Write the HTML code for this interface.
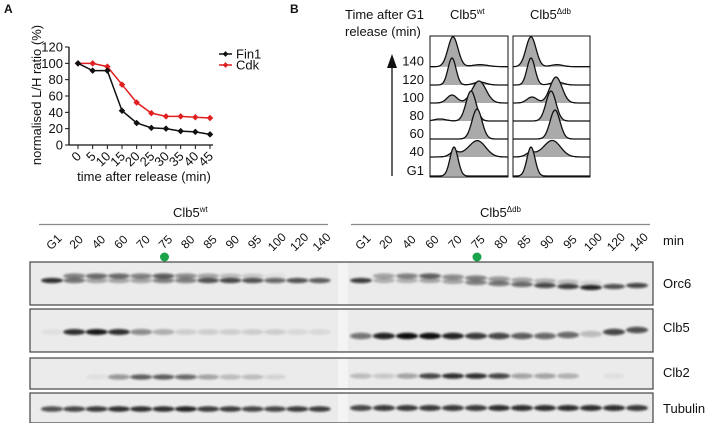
<!DOCTYPE html>
<html><head><meta charset="utf-8"><style>
body{margin:0;background:#fff;}
svg text{font-family:"Liberation Sans",sans-serif;fill:#111;}
</style></head><body>
<svg id="fig" width="709" height="423" viewBox="0 0 709 423" xmlns="http://www.w3.org/2000/svg">
<defs>
<filter id="blur" x="-50%" y="-100%" width="200%" height="300%"><feGaussianBlur stdDeviation="1.1"/></filter>
</defs>
<text x="4" y="13" font-size="12" font-weight="bold">A</text>
<text x="290" y="13" font-size="12" font-weight="bold">B</text>
<g id="chartA"></g>
<g id="panelB"></g>
<g id="blot"></g>
</svg>
<script>
// ---------- Chart A data ----------
const timeLabels = ["0","5","10","15","20","25","30","35","40","45"];
const fin1Values = [100,91,91,42,27,21,20,17,16,13];
const cdkValues = [100,100,96,74,52,39,35,35,34,33];
const yTicks = [0,20,40,60,80,100,120];
const seriesNames = ["Fin1","Cdk"];

// ---------- Blot data (lane intensities 0-1) ----------
const laneLabels = ["G1","20","40","60","70","75","80","85","90","95","100","120","140"];
const orc6UpperWt = [0,0.5,0.6,0.6,0.5,0.65,0.45,0.3,0.2,0.15,0.05,0,0];
const orc6LowerWt = [0.85,0.55,0.35,0.35,0.35,0.5,0.5,0.7,0.75,0.7,0.6,0.7,0.65];
const orc6UpperDb = [0,0.35,0.5,0.65,0.45,0.5,0.4,0.3,0.25,0.2,0.1,0,0];
const orc6LowerDb = [0.8,0.25,0.25,0.3,0.3,0.5,0.55,0.6,0.75,0.8,0.9,0.7,0.75];
const orc6ShiftDb = [0,0,0,0,1,2,3,4,5,6,7,6,5];
const clb5Wt = [0.05,0.85,0.95,0.85,0.45,0.25,0.12,0.12,0.12,0.12,0.12,0.08,0.08];
const clb5Db = [0.55,0.9,1,1,0.9,0.8,0.75,0.65,0.6,0.6,0.2,0.75,0.7];
const clb5ShiftDb = [0,0,0,0,0,0,0,0,0,-1,-2,-4,-6];
const clb2Wt = [0,0,0.05,0.4,0.65,0.65,0.6,0.3,0.2,0.2,0.1,0,0];
const clb2Db = [0.2,0.15,0.3,0.75,0.85,0.85,0.75,0.3,0.3,0.25,0,0.05,0];
const tubWt = [0.7,0.75,0.8,0.85,0.85,0.85,0.9,0.8,0.8,0.75,0.75,0.8,0.8];
const tubDb = [0.75,0.8,0.8,0.8,0.8,0.8,0.85,0.85,0.85,0.85,0.85,0.85,0.8];

// ---------- Flow data: [center offset, height, width] peaks per row ----------
const flowRows = ["140","120","100","80","60","40","G1"];
const flowWt = [[[23,30,5],[50,2,8]],[[22,27,4],[50,3,6]],[[22,8,5],[49,22,7]],[[41,30,5],[10,2,6]],[[47,30,5]],[[24,4,4],[48,15,8],[35,3,10]],[[24,29,4]]];
const flowDb = [[[18,30,5],[44,2,6]],[[18,27,4],[44,3,6]],[[19,6,5],[43,26,6]],[[38,30,5]],[[42,29,5]],[[17,3,4],[40,15,8],[28,3,10]],[[18,29,4]]];

const NS="http://www.w3.org/2000/svg";
function mk(tag,attrs,parent){const e=document.createElementNS(NS,tag);for(const k in attrs)e.setAttribute(k,attrs[k]);parent.appendChild(e);return e;}
function txt(s,attrs,parent){const e=mk("text",attrs,parent);e.textContent=s;return e;}

// ---------- Chart A ----------
(function(){
 const g=document.getElementById("chartA");
 const x0=78,dx=132/9,yb=145,ypx=98/120;
 const X=i=>x0+i*dx, Y=v=>yb-v*ypx;
 const yaxis=mk("line",{x1:69,y1:Y(120),x2:69,y2:yb,stroke:"#111","stroke-width":1.3},g);
 
 
 const xaxis=mk("line",{x1:69,y1:yb,x2:X(9)+3,y2:yb,stroke:"#111","stroke-width":1.3},g);
 
 
 yTicks.forEach(v=>{
  mk("line",{x1:65,y1:Y(v),x2:69,y2:Y(v),stroke:"#111"},g);
  const t=txt(String(v),{x:63,y:Y(v)+4.5,"font-size":13,"text-anchor":"end"},g);
  
  
 });
 timeLabels.forEach((s,i)=>{
  mk("line",{x1:X(i),y1:yb,x2:X(i),y2:yb+4,stroke:"#111"},g);
  const t=txt(s,{x:X(i)+4,y:yb+12,"font-size":13,"text-anchor":"end",transform:`rotate(-45 ${X(i)+4} ${yb+12})`},g);
  
  
 });
 const yl=txt("normalised L/H ratio (%)",{x:0,y:0,"font-size":13,"text-anchor":"middle",transform:"translate(41,95) rotate(-90)"},g);
 
 
 const xl=txt("time after release (min)",{x:144,y:181,"font-size":13,"text-anchor":"middle"},g);
 
 
 [[cdkValues,"#e02020","series-cdk"],[fin1Values,"#111","series-fin1"]].forEach(([vals,col,nm])=>{
  const p=mk("polyline",{points:vals.map((v,i)=>X(i)+","+Y(v)).join(" "),fill:"none",stroke:col,"stroke-width":1.5},g);
  
  
  vals.forEach((v,i)=>{
   const m=mk("rect",{x:X(i)-2.3,y:Y(v)-2.3,width:4.6,height:4.6,fill:col,transform:`rotate(45 ${X(i)} ${Y(v)})`},g);
   
   
  });
 });
 [["#111",seriesNames[0],54],["#e02020",seriesNames[1],65]].forEach(([col,nm,y])=>{
  const lg=mk("g",{},g);
  
  
  mk("line",{x1:219,y1:y,x2:232,y2:y,stroke:col,"stroke-width":1.5},lg);
  mk("rect",{x:223.5,y:y-2,width:4,height:4,fill:col,transform:`rotate(45 225.5 ${y})`},lg);
  txt(nm,{x:236,y:y+4.5,"font-size":13},lg);
 });
})();

// ---------- Panel B ----------
(function(){
 const g=document.getElementById("panelB");
 txt("Time after G1",{x:345,y:19,"font-size":13},g);
 txt("release (min)",{x:345,y:36,"font-size":13},g);
 const h1=txt("Clb5",{x:450,y:19,"font-size":13},g);
 const s1=mk("tspan",{"font-size":8,dy:-5},h1);s1.textContent="wt";
 
 const h2=txt("Clb5",{x:530,y:19,"font-size":13},g);
 const s2=mk("tspan",{"font-size":8,dy:-5},h2);s2.textContent="Δdb";
 
 const arr=mk("line",{x1:392,y1:176,x2:392,y2:64,stroke:"#111","stroke-width":1.3},g);
 
 mk("polygon",{points:"392,54 387,68 397,68",fill:"#111"},g);
 const base=[66.7,85,103,121,139,157,176];
 flowRows.forEach((r,i)=>{
  const t=txt(r,{x:424,y:base[i]-1,"font-size":13,"text-anchor":"end"},g);
  
 });
 [[430,78,flowWt],[513,77,flowDb]].forEach(([bx,bw,data],pi)=>{
  const pg=mk("g",{},g);
  
  
  mk("rect",{x:bx,y:36,width:bw,height:141,fill:"#fff",stroke:"#111","stroke-width":1},pg);
  data.forEach((peaks,ri)=>{
   const b=base[ri];let pts=[];
   for(let x=0;x<=bw;x+=1){let h=0;peaks.forEach(([c,a,w])=>{h+=a*Math.exp(-((x-c)**2)/(2*w*w));});pts.push([bx+x,b-h]);}
   const d="M"+bx+","+b+" "+pts.map(p=>"L"+p[0].toFixed(1)+","+p[1].toFixed(1)).join(" ")+" L"+(bx+bw)+","+b+"Z";
   mk("path",{d:d,fill:"#aaa",stroke:"none"},pg);
   const l=mk("path",{d:"M"+pts.map(p=>p[0].toFixed(1)+","+p[1].toFixed(1)).join(" L"),fill:"none",stroke:"#111","stroke-width":1.3},pg);
   
  });
 });
})();

// ---------- Blot ----------
(function(){
 const g=document.getElementById("blot");
 const h1=txt("Clb5",{x:173,y:217,"font-size":13},g);
 const s1=mk("tspan",{"font-size":8,dy:-5},h1);s1.textContent="wt";
 
 const h2=txt("Clb5",{x:480,y:217,"font-size":13},g);
 const s2=mk("tspan",{"font-size":8,dy:-5},h2);s2.textContent="Δdb";
 
 mk("line",{x1:39,y1:224.5,x2:328,y2:224.5,stroke:"#888","stroke-width":1.2},g);
 mk("line",{x1:351,y1:224.5,x2:650,y2:224.5,stroke:"#888","stroke-width":1.2},g);
 const mn=txt("min",{x:663,y:245,"font-size":13},g);
 
 const LX=i=>52+i*22.3, RX=i=>361+i*23;
 [LX,RX].forEach((fx,si)=>{
  laneLabels.forEach((s,i)=>{
   const x=fx(i)+2,y=246;
   const t=txt(s,{x:x,y:y,"font-size":12,"text-anchor":"middle",transform:`rotate(-45 ${x} ${y-4})`},g);
   
  });
  const dot=mk("circle",{cx:fx(5)+1,cy:257,r:4.5,fill:"#1aa34a"},g);
  
 });
 const strips=[["Orc6",262,43,283],["Clb5",309,43,327],["Clb2",358,31,372],["Tubulin",393,30,408]];
 strips.forEach(([nm,y,h,ly])=>{
  const r=mk("rect",{x:30,y:y,width:623,height:h,fill:"#ebebeb",stroke:"#444","stroke-width":1.2},g);
  
  mk("rect",{x:338,y:y+1,width:10,height:h-2,fill:"#f4f4f4"},g);
  const t=txt(nm,{x:663,y:ly+5,"font-size":13},g);
  
 });
 const bg=mk("g",{filter:"url(#blur)"},g);
 function band(x,y,a,ry){if(a<=0)return;const e=mk("ellipse",{cx:x,cy:y,rx:11,ry:ry||2.6,fill:"#111","fill-opacity":a},bg);}
 laneLabels.forEach((_,i)=>{
  band(LX(i),276,orc6UpperWt[i]);band(LX(i),280.5,orc6LowerWt[i]);
  band(RX(i),276+orc6ShiftDb[i],orc6UpperDb[i]);band(RX(i),280.5+orc6ShiftDb[i],orc6LowerDb[i]);
  band(LX(i),332,clb5Wt[i],3);band(RX(i),336+clb5ShiftDb[i],clb5Db[i],3.2);
  band(LX(i),377,clb2Wt[i]);band(RX(i),376,clb2Db[i],2.8);
  band(LX(i),409,tubWt[i],2.8);band(RX(i),408,tubDb[i],3);
 });
})();
</script>
</body></html>
